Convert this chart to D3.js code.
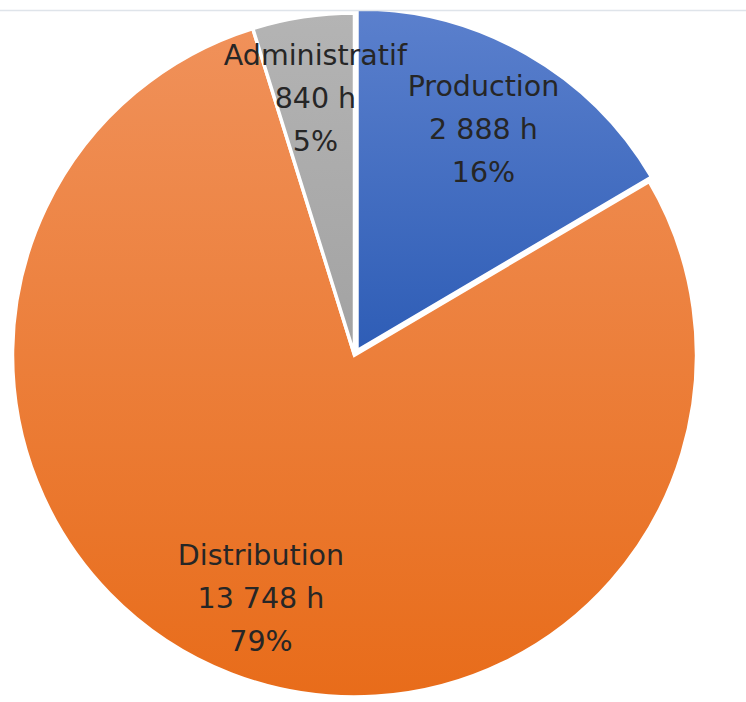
<!DOCTYPE html>
<html><head><meta charset="utf-8">
<script src="https://cdn.jsdelivr.net/npm/d3@7"></script>
<style>body{margin:0;background:#fff}svg{display:block}</style>
</head><body>
<script>
const categories = ["Production", "Distribution", "Administratif"];
const hours = [2888, 13748, 840];
const hourLabels = ["2 888 h", "13 748 h", "840 h"];
const pctLabels = ["16%", "79%", "5%"];
const colorsTop = ["#5b80cd", "#f0915a", "#b4b4b4"];
const colorsBottom = ["#2e5db6", "#e86c1a", "#a2a2a2"];
const explode = [5, 0, 0];

const W = 746, H = 702, cx = 354.5, cy = 355, R = 342;
const svg = d3.select("body").append("svg").attr("width", W).attr("height", H);

const defs = svg.append("defs");
defs.append("clipPath").attr("id","clip").append("rect")
  .attr("x",0).attr("y",11).attr("width",W).attr("height",H-11);
categories.forEach((c,i)=>{
  const g = defs.append("linearGradient").attr("id","g"+i)
    .attr("x1",0).attr("y1",0).attr("x2",0).attr("y2",1);
  g.append("stop").attr("offset","0").attr("stop-color",colorsTop[i]);
  g.append("stop").attr("offset","1").attr("stop-color",colorsBottom[i]);
});

const data = categories.map((c,i)=>({cat:c, v:hours[i], h:hourLabels[i], p:pctLabels[i], i}));
const pie = d3.pie().value(d=>d.v).sort(null);
const arcs = pie(data);
const arc = d3.arc().innerRadius(0).outerRadius(R);
const labelArc = d3.arc().innerRadius(R*0.76).outerRadius(R*0.76);
const off = d => {const a=(d.startAngle+d.endAngle)/2, e=explode[d.data.i]; return [Math.sin(a)*e, -Math.cos(a)*e];};

const root = svg.append("g").attr("clip-path","url(#clip)");
const g = root.append("g").attr("transform",`translate(${cx},${cy})`);
g.selectAll("path").data(arcs).join("path")
  .attr("transform",d=>`translate(${off(d)})`)
  .attr("d",arc)
  .attr("fill",d=>`url(#g${d.data.i})`)
  .attr("stroke","#fff").attr("stroke-width",3.5).attr("stroke-linejoin","miter");

svg.append("line").attr("x1",0).attr("x2",W).attr("y1",10.5).attr("y2",10.5)
  .attr("stroke","#dfe4ea").attr("stroke-width",1.5);

const lab = g.selectAll("g.lab").data(arcs).join("g").attr("class","lab")
  .attr("transform",d=>{const [x,y]=labelArc.centroid(d);return `translate(${x},${y})`;});
lab.each(function(d){
  const t = d3.select(this).append("text")
    .attr("text-anchor","middle")
    .attr("font-family","'Comic Sans MS','DejaVu Sans',sans-serif")
    .attr("font-size",28.5).attr("fill","#262626");
  [d.data.cat, d.data.h, d.data.p].forEach((s,k)=>{
    t.append("tspan").attr("x",0).attr("y",(k-1)*43+10).text(s);
  });
});
</script>
</body></html>
